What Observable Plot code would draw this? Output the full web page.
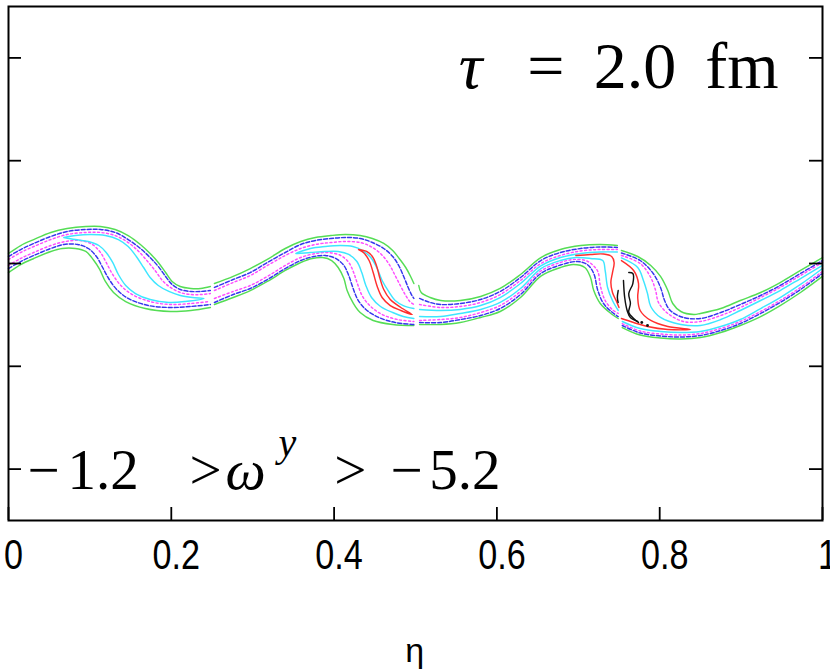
<!DOCTYPE html>
<html><head><meta charset="utf-8">
<script src="https://cdn.jsdelivr.net/npm/d3@7"></script>
<script src="https://cdn.jsdelivr.net/npm/@observablehq/plot@0.6"></script>
<style>body{margin:0;background:#fff}</style>
</head><body><div id="chart"></div>
<script>
// axis ticks
const xTicks = [0, 0.2, 0.4, 0.6, 0.8, 1];
const yTicks = [-2, -1, 0, 1, 2];

// ---- contour lines, [eta, y] ----
// segment 1 (0 - 0.25)
const greenUp1 = [[0,0.097],[0.015,0.175],[0.031,0.233],[0.052,0.302],[0.072,0.340],[0.095,0.360],[0.113,0.360],[0.131,0.331],[0.147,0.272],[0.162,0.185],[0.174,0.097],[0.184,0.010],[0.193,-0.088],[0.201,-0.175],[0.211,-0.224],[0.224,-0.243],[0.236,-0.243],[0.248,-0.224]];
const blueUp1 = [[0,0.068],[0.015,0.136],[0.031,0.195],[0.052,0.263],[0.072,0.311],[0.095,0.331],[0.113,0.331],[0.131,0.302],[0.147,0.233],[0.162,0.146],[0.174,0.058],[0.184,-0.029],[0.193,-0.126],[0.201,-0.204],[0.211,-0.253],[0.224,-0.272],[0.236,-0.272],[0.248,-0.263]];
const magUp1 = [[0,0.039],[0.015,0.107],[0.031,0.165],[0.052,0.233],[0.072,0.282],[0.095,0.302],[0.113,0.302],[0.131,0.272],[0.147,0.204],[0.160,0.117],[0.171,0.019],[0.181,-0.078],[0.189,-0.165],[0.199,-0.233],[0.211,-0.282],[0.224,-0.302],[0.236,-0.302],[0.248,-0.292]];
const cyan1 = [[0.068,0.253],[0.082,0.272],[0.101,0.282],[0.119,0.272],[0.135,0.233],[0.147,0.165],[0.157,0.068],[0.166,-0.039],[0.174,-0.136],[0.184,-0.214],[0.197,-0.272],[0.211,-0.311],[0.226,-0.331],[0.240,-0.340],[0.217,-0.370],[0.197,-0.379],[0.174,-0.350],[0.156,-0.292],[0.144,-0.214],[0.135,-0.107],[0.128,0.010],[0.120,0.107],[0.111,0.175],[0.098,0.214],[0.082,0.233],[0.068,0.253]];
const magLo1 = [[0,-0.019],[0.015,0.049],[0.031,0.107],[0.052,0.175],[0.070,0.214],[0.088,0.224],[0.103,0.185],[0.113,0.107],[0.120,0.010],[0.128,-0.107],[0.138,-0.214],[0.152,-0.302],[0.174,-0.370],[0.199,-0.399],[0.224,-0.389],[0.246,-0.370]];
const blueLo1 = [[0,-0.049],[0.015,0.019],[0.031,0.078],[0.052,0.146],[0.068,0.185],[0.085,0.185],[0.098,0.146],[0.108,0.068],[0.115,-0.029],[0.123,-0.146],[0.133,-0.253],[0.147,-0.340],[0.172,-0.409],[0.199,-0.428],[0.224,-0.418],[0.248,-0.399]];
const greenLo1 = [[0,-0.088],[0.015,-0.010],[0.031,0.049],[0.052,0.117],[0.066,0.146],[0.082,0.146],[0.095,0.117],[0.104,0.039],[0.112,-0.058],[0.119,-0.175],[0.129,-0.282],[0.144,-0.370],[0.168,-0.438],[0.199,-0.467],[0.224,-0.457],[0.248,-0.428]];

// segment 2 (0.25 - 0.5)
const greenUp2 = [[0.253,-0.195],[0.276,-0.126],[0.297,-0.049],[0.318,0.039],[0.340,0.146],[0.359,0.214],[0.377,0.253],[0.396,0.272],[0.414,0.282],[0.432,0.272],[0.447,0.243],[0.461,0.195],[0.472,0.126],[0.480,0.049],[0.488,-0.039],[0.494,-0.126],[0.498,-0.195]];
const blueUp2 = [[0.253,-0.233],[0.276,-0.156],[0.297,-0.088],[0.318,0.010],[0.340,0.107],[0.359,0.185],[0.377,0.224],[0.396,0.243],[0.414,0.253],[0.432,0.243],[0.447,0.204],[0.461,0.146],[0.472,0.068],[0.480,-0.029],[0.486,-0.136],[0.491,-0.233],[0.495,-0.302],[0.498,-0.340]];
const magUp2 = [[0.253,-0.263],[0.276,-0.185],[0.297,-0.117],[0.318,-0.019],[0.340,0.078],[0.359,0.146],[0.377,0.185],[0.396,0.204],[0.414,0.214],[0.432,0.204],[0.445,0.165],[0.457,0.097],[0.467,0],[0.475,-0.117],[0.482,-0.224],[0.488,-0.311],[0.493,-0.370],[0.498,-0.399]];
const cyan2 = [[0.498,-0.535],[0.485,-0.516],[0.472,-0.477],[0.457,-0.418],[0.446,-0.331],[0.439,-0.214],[0.434,-0.088],[0.428,0.019],[0.418,0.088],[0.405,0.117],[0.389,0.117],[0.371,0.107],[0.353,0.097],[0.371,0.146],[0.389,0.165],[0.408,0.175],[0.423,0.165],[0.435,0.126],[0.445,0.058],[0.453,-0.049],[0.459,-0.165],[0.467,-0.272],[0.475,-0.360],[0.485,-0.409],[0.498,-0.438]];
const red2 = [[0.430,0.136],[0.440,0.117],[0.447,0.068],[0.452,-0.019],[0.456,-0.136],[0.461,-0.253],[0.469,-0.350],[0.482,-0.428],[0.496,-0.496],[0.482,-0.457],[0.469,-0.409],[0.459,-0.331],[0.453,-0.224],[0.448,-0.088],[0.443,0.029],[0.436,0.107],[0.430,0.136]];
const magLo2 = [[0.253,-0.340],[0.276,-0.272],[0.297,-0.214],[0.318,-0.126],[0.340,-0.019],[0.359,0.058],[0.377,0.097],[0.393,0.107],[0.408,0.078],[0.418,0.010],[0.424,-0.088],[0.429,-0.204],[0.435,-0.321],[0.445,-0.418],[0.459,-0.496],[0.478,-0.545],[0.498,-0.564]];
const blueLo2 = [[0.253,-0.379],[0.276,-0.302],[0.297,-0.243],[0.318,-0.156],[0.340,-0.049],[0.359,0.029],[0.375,0.068],[0.389,0.078],[0.402,0.049],[0.412,-0.019],[0.418,-0.117],[0.423,-0.233],[0.429,-0.350],[0.439,-0.447],[0.455,-0.525],[0.475,-0.574],[0.498,-0.593]];
const greenLo2 = [[0.253,-0.399],[0.276,-0.331],[0.297,-0.263],[0.318,-0.175],[0.340,-0.068],[0.359,0.010],[0.373,0.049],[0.386,0.058],[0.397,0.029],[0.405,-0.039],[0.412,-0.146],[0.416,-0.263],[0.423,-0.379],[0.432,-0.477],[0.448,-0.554],[0.472,-0.593],[0.498,-0.603]];

// segment 3 (0.5 - 0.75)
const greenUp3 = [[0.504,-0.214],[0.507,-0.282],[0.518,-0.331],[0.531,-0.360],[0.555,-0.360],[0.580,-0.321],[0.604,-0.243],[0.629,-0.107],[0.654,0.058],[0.678,0.136],[0.703,0.175],[0.727,0.185],[0.748,0.175]];
const blueUp3 = [[0.505,-0.340],[0.518,-0.379],[0.531,-0.399],[0.555,-0.389],[0.580,-0.350],[0.604,-0.272],[0.629,-0.136],[0.654,0.029],[0.678,0.107],[0.703,0.146],[0.727,0.161],[0.748,0.156]];
const magUp3 = [[0.505,-0.399],[0.531,-0.428],[0.555,-0.418],[0.580,-0.379],[0.604,-0.302],[0.629,-0.165],[0.654,0],[0.678,0.078],[0.703,0.122],[0.727,0.136],[0.748,0.136]];
const cyanUp3 = [[0.505,-0.447],[0.531,-0.457],[0.555,-0.447],[0.580,-0.409],[0.604,-0.331],[0.629,-0.195],[0.654,-0.024],[0.678,0.058],[0.703,0.097],[0.727,0.112],[0.748,0.112]];
const red3 = [[0.697,0.078],[0.715,0.088],[0.731,0.092],[0.741,0.068],[0.744,0.010],[0.742,-0.088],[0.740,-0.185],[0.742,-0.282],[0.747,-0.370],[0.750,-0.428]];
const black3 = [[0.749,-0.263],[0.748,-0.331],[0.749,-0.379]];
const cyanLo3 = [[0.505,-0.516],[0.531,-0.516],[0.555,-0.486],[0.580,-0.447],[0.604,-0.379],[0.629,-0.243],[0.654,-0.049],[0.678,0.029],[0.697,0.058],[0.715,0.049],[0.730,0.029],[0.733,-0.068],[0.736,-0.233],[0.742,-0.360],[0.749,-0.457]];
const magLo3 = [[0.505,-0.554],[0.531,-0.545],[0.555,-0.525],[0.580,-0.477],[0.604,-0.409],[0.629,-0.272],[0.654,-0.073],[0.678,0.010],[0.694,0.039],[0.709,0.029],[0.717,-0.010],[0.724,-0.078],[0.727,-0.214],[0.733,-0.360],[0.743,-0.457],[0.749,-0.486]];
const blueLo3 = [[0.505,-0.574],[0.531,-0.574],[0.555,-0.545],[0.580,-0.506],[0.604,-0.438],[0.629,-0.302],[0.654,-0.097],[0.678,-0.015],[0.699,0.019],[0.711,-0.010],[0.719,-0.097],[0.724,-0.263],[0.731,-0.389],[0.742,-0.477],[0.749,-0.516]];
const greenLo3 = [[0.505,-0.593],[0.531,-0.593],[0.555,-0.574],[0.580,-0.525],[0.604,-0.467],[0.629,-0.331],[0.654,-0.122],[0.678,-0.039],[0.694,-0.010],[0.708,-0.039],[0.715,-0.136],[0.719,-0.263],[0.727,-0.389],[0.740,-0.486],[0.749,-0.535]];

// segment 4 (0.75 - 1)
const greenUp4 = [[0.753,0.126],[0.773,0.068],[0.789,-0.019],[0.801,-0.126],[0.810,-0.263],[0.816,-0.389],[0.826,-0.467],[0.842,-0.496],[0.850,-0.486],[0.875,-0.438],[0.899,-0.360],[0.924,-0.282],[0.948,-0.185],[0.973,-0.068],[1.0,0.058]];
const blueUp4 = [[0.753,0.102],[0.776,0.029],[0.792,-0.097],[0.801,-0.233],[0.806,-0.360],[0.813,-0.457],[0.829,-0.525],[0.850,-0.535],[0.875,-0.477],[0.899,-0.399],[0.924,-0.311],[0.948,-0.214],[0.973,-0.097],[1.0,0.029]];
const magUp4 = [[0.753,0.078],[0.776,0],[0.789,-0.136],[0.795,-0.263],[0.7985,-0.379],[0.810,-0.486],[0.829,-0.564],[0.850,-0.564],[0.875,-0.506],[0.899,-0.428],[0.924,-0.331],[0.948,-0.233],[0.973,-0.117],[1.0,0.010]];
const cyanUp4 = [[0.753,0.054],[0.773,-0.039],[0.780,-0.165],[0.785,-0.292],[0.789,-0.418],[0.801,-0.525],[0.826,-0.593],[0.850,-0.603],[0.875,-0.545],[0.899,-0.457],[0.924,-0.360],[0.948,-0.263],[0.973,-0.146],[1.0,-0.019]];
const red4 = [[0.753,0.029],[0.768,-0.068],[0.774,-0.195],[0.773,-0.331],[0.776,-0.457],[0.789,-0.554],[0.810,-0.613],[0.838,-0.642],[0.810,-0.642],[0.785,-0.613],[0.768,-0.574],[0.753,-0.535]];
const blackA4 = [[0.762,-0.088],[0.767,-0.097],[0.767,-0.195],[0.762,-0.292],[0.764,-0.389],[0.762,-0.477],[0.768,-0.535],[0.774,-0.574]];
const blackB4 = [[0.7555,-0.165],[0.757,-0.331],[0.760,-0.457],[0.764,-0.525],[0.773,-0.564]];
const blackDots4 = [[0.778,-0.574],[0.785,-0.603]];
const cyanLo4 = [[0.754,-0.564],[0.776,-0.632],[0.801,-0.661],[0.826,-0.671],[0.850,-0.661],[0.875,-0.613],[0.899,-0.545],[0.924,-0.438],[0.948,-0.331],[0.973,-0.204],[1.0,-0.049]];
const magLo4 = [[0.754,-0.584],[0.776,-0.657],[0.801,-0.686],[0.826,-0.696],[0.850,-0.681],[0.875,-0.632],[0.899,-0.564],[0.924,-0.467],[0.948,-0.360],[0.973,-0.233],[1.0,-0.078]];
const blueLo4 = [[0.754,-0.603],[0.776,-0.676],[0.801,-0.705],[0.826,-0.715],[0.850,-0.700],[0.875,-0.652],[0.899,-0.584],[0.924,-0.486],[0.948,-0.379],[0.973,-0.253],[1.0,-0.097]];
const greenLo4 = [[0.754,-0.623],[0.776,-0.696],[0.801,-0.725],[0.826,-0.734],[0.850,-0.720],[0.875,-0.671],[0.899,-0.603],[0.924,-0.516],[0.948,-0.409],[0.973,-0.282],[1.0,-0.126]];

const contours = [
  ["green", greenUp1], ["green", greenLo1], ["green", greenUp2], ["green", greenLo2],
  ["green", greenUp3], ["green", greenLo3], ["green", greenUp4], ["green", greenLo4],
  ["blue", blueUp1], ["blue", blueLo1], ["blue", blueUp2], ["blue", blueLo2],
  ["blue", blueUp3], ["blue", blueLo3], ["blue", blueUp4], ["blue", blueLo4],
  ["magenta", magUp1], ["magenta", magLo1], ["magenta", magUp2], ["magenta", magLo2],
  ["magenta", magUp3], ["magenta", magLo3], ["magenta", magUp4], ["magenta", magLo4],
  ["cyan", cyan1], ["cyan", cyan2], ["cyan", cyanUp3], ["cyan", cyanLo3], ["cyan", cyanUp4], ["cyan", cyanLo4],
  ["red", red2], ["red", red3], ["red", red4],
  ["black", black3], ["black", blackA4], ["black", blackB4]
];
const rows = contours.flatMap(([level, pts], id) => pts.map(([x, y]) => ({x, y, level, id})));

const styles = {
  green:   {stroke: "#55dd55"},
  blue:    {stroke: "#3535ee", strokeDasharray: "4,2"},
  magenta: {stroke: "#ff4cff", strokeDasharray: "2,2.5"},
  cyan:    {stroke: "#3ee6ff"},
  red:     {stroke: "#ff2e2e"},
  black:   {stroke: "#111111"}
};
const lineMarks = Object.keys(styles).map(level =>
  Plot.line(rows.filter(r => r.level === level), {
    x: "x", y: "y", z: "id", curve: "catmull-rom", strokeWidth: 1.45, ...styles[level]
  })
);

const serif = "Liberation Serif, Times New Roman, serif";
const note = (t, x, y, o = {}) => Plot.text([t], {
  x: () => x, y: () => y, text: d => d, textAnchor: "start", lineAnchor: "bottom",
  fontFamily: serif, fontSize: 57, fill: "black", ...o
});

const plot = Plot.plot({
  width: 830, height: 669,
  marginLeft: 8, marginRight: 8, marginTop: 6, marginBottom: 149,
  x: {domain: [0, 1], axis: null},
  y: {domain: [-2.5, 2.5], axis: null},
  style: {background: "white", overflow: "visible"},
  marks: [
    ...lineMarks,
    Plot.dot(blackDots4, {x: d => d[0], y: d => d[1], r: 1.4, fill: "#111", stroke: null}),
    Plot.tickX(xTicks, {x: d => d, insetTop: 501, stroke: "black", strokeWidth: 1.8}),
    Plot.tickY(yTicks, {y: d => d, insetRight: 801, stroke: "black", strokeWidth: 1.8}),
    Plot.tickY(yTicks, {y: d => d, insetLeft: 801, stroke: "black", strokeWidth: 1.8}),
    Plot.frame({stroke: "black", strokeWidth: 2}),
    Plot.text(xTicks, {x: d => d, text: d => String(d), frameAnchor: "bottom", dy: 48, dx: 5,
      lineAnchor: "bottom", fontSize: 36, fontFamily: "Liberation Sans, Arial, Helvetica, sans-serif", fill: "black"}),
    Plot.text(["η"], {x: () => 0.499, text: d => d, frameAnchor: "bottom", dy: 141,
      lineAnchor: "bottom", fontSize: 34, fontFamily: "Liberation Sans, Arial, sans-serif", fill: "black"}),
    // τ = 2.0 fm
    note("τ", 0.553, 1.712, {fontStyle: "italic", fontSize: 66}),
    note("=", 0.660, 1.712, {textAnchor: "middle", fontSize: 66}),
    note("2.0", 0.719, 1.712, {fontSize: 66}),
    note("fm", 0.856, 1.712, {fontSize: 66}),
    // −1.2 > ω^y > −5.2
    note("\u2212", 0.043, -2.189, {textAnchor: "middle"}),
    note("1.2", 0.0725, -2.189),
    note(">", 0.242, -2.189, {textAnchor: "middle"}),
    note("ω", 0.2666, -2.189, {fontStyle: "italic"}),
    note("y", 0.3317, -1.868, {fontStyle: "italic", fontSize: 40}),
    note(">", 0.420, -2.189, {textAnchor: "middle"}),
    note("\u2212", 0.489, -2.189, {textAnchor: "middle"}),
    note("5.2", 0.517, -2.189)
  ]
});
// the reference's tick labels are slightly tall and narrow
plot.querySelectorAll('g[font-size="36"] text').forEach(el => {
  const t = el.getAttribute("transform");
  if (t) el.setAttribute("transform", t + " scale(0.95,1.18)");
});
document.getElementById("chart").appendChild(plot);
</script>
</body></html>
